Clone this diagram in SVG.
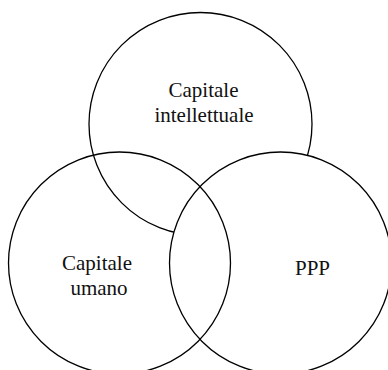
<svg xmlns="http://www.w3.org/2000/svg" width="388" height="370" viewBox="0 0 388 370">
<style>
.c{stroke:#000;stroke-width:1.3}
.t{font-family:"Liberation Serif","Times New Roman",serif;font-size:21px;fill:#111;text-anchor:middle}
</style>
<rect width="388" height="370" fill="#fff"/>
<g id="intellettuale">
<circle class="c" cx="200.5" cy="124" r="111.5" fill="#fff"/>
<text class="t" x="203.5" y="96.5">Capitale</text>
<text class="t" x="204" y="121.5">intellettuale</text>
</g>
<g id="ppp">
<circle class="c" cx="280.5" cy="263" r="111" fill="#fff"/>
<text class="t" x="312.5" y="275">PPP</text>
</g>
<g id="umano">
<circle class="c" cx="119.5" cy="263" r="111" fill="none"/>
<text class="t" x="97" y="270">Capitale</text>
<text class="t" x="99" y="295">umano</text>
</g>
</svg>
